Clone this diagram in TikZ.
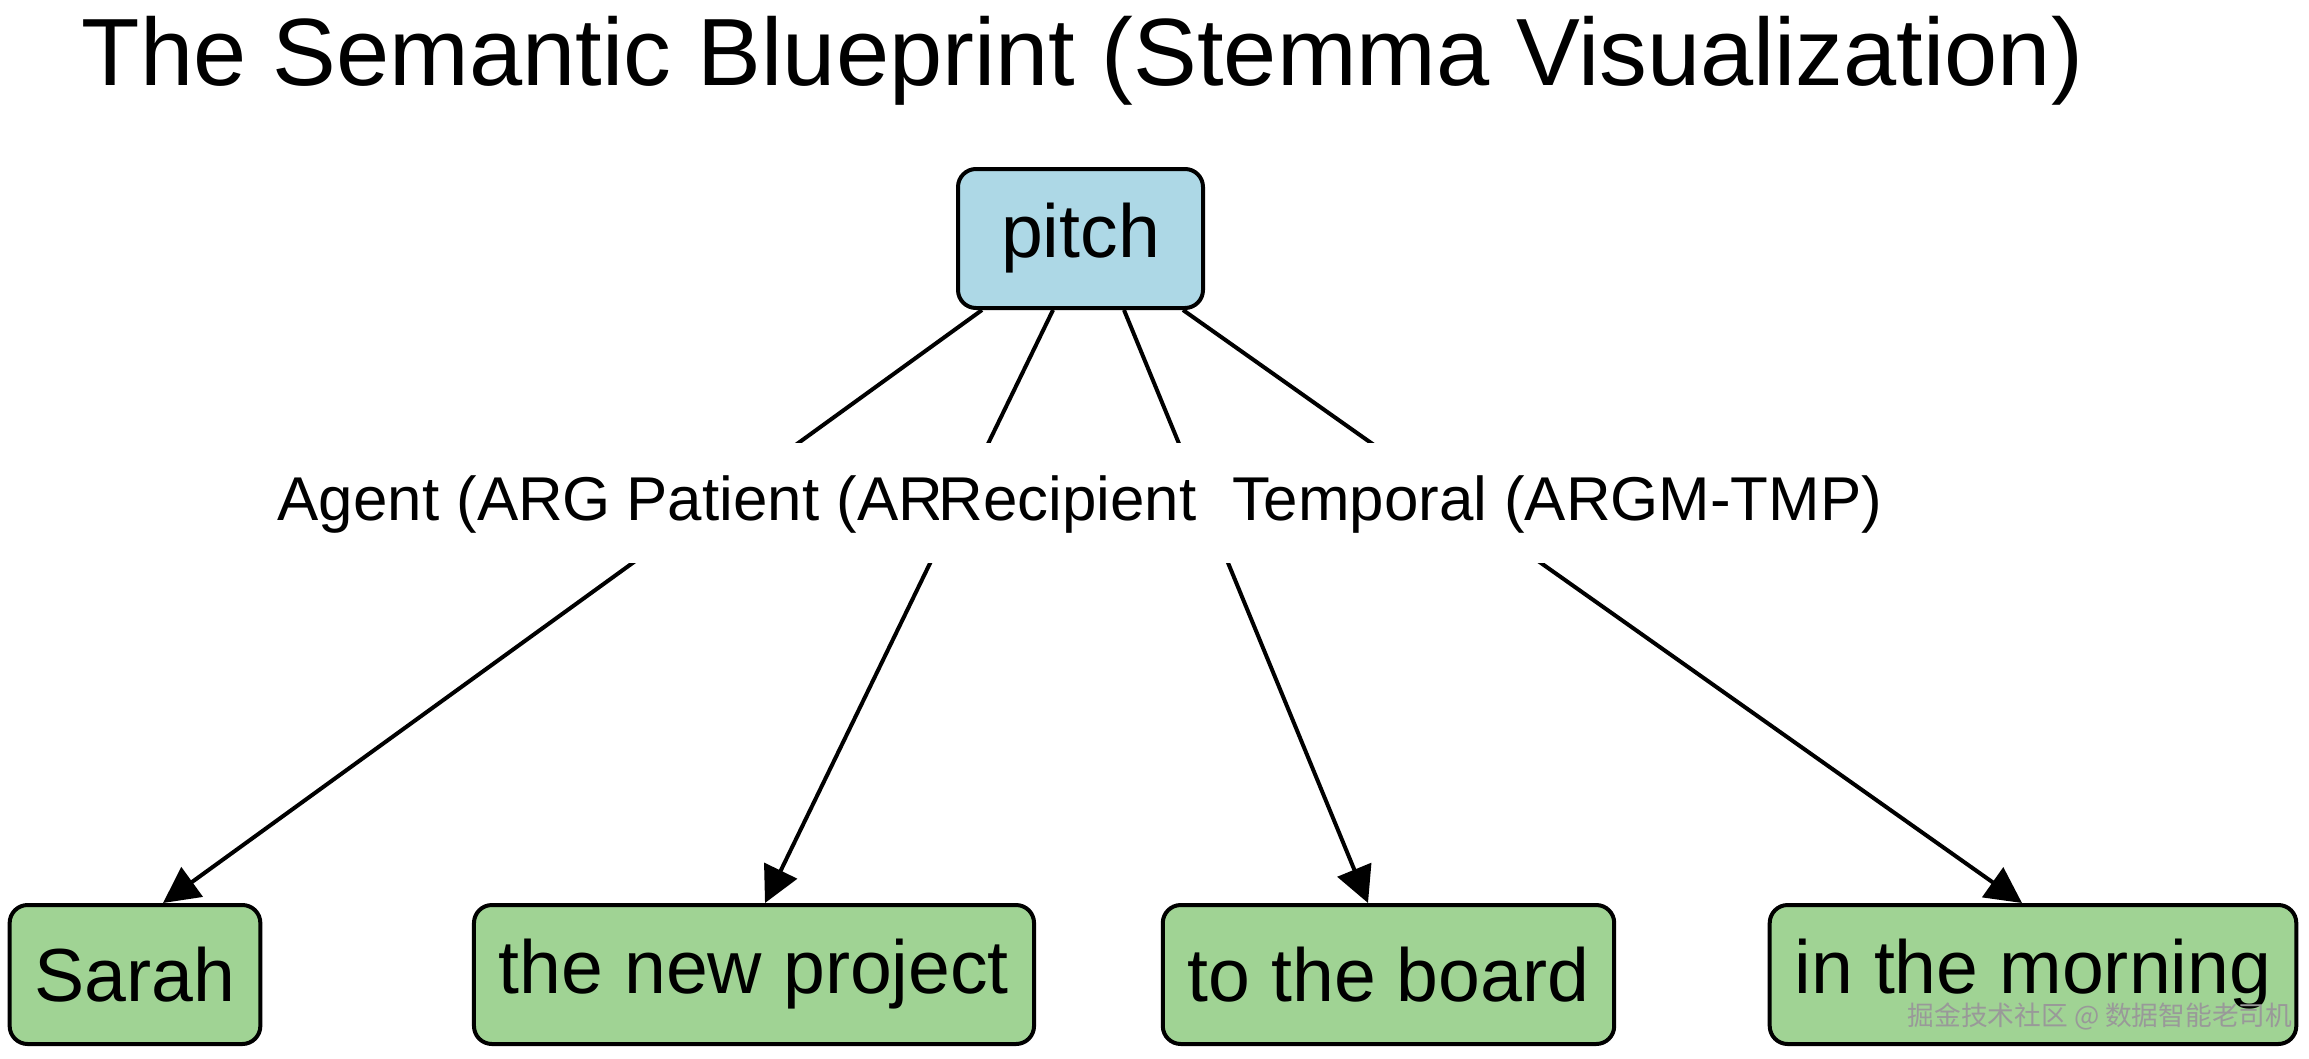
\documentclass[tikz,border=0pt]{standalone}
\usepackage{fontspec}
\setmainfont{Liberation Sans}
\newfontfamily\cjk{Noto Sans CJK SC}
\usetikzlibrary{arrows.meta}

\definecolor{verbblue}{HTML}{ADD8E6}
\definecolor{arggreen}{HTML}{A0D394}

\begin{document}
\begin{tikzpicture}[
		v/.style = {rectangle, rounded corners=0.18cm, draw=black, fill=verbblue, line width=0.04cm, minimum width=2.45cm, minimum height=1.39cm, font=\fontsize{21.4}{25}\selectfont},
		a/.style = {rectangle, rounded corners=0.18cm, draw=black, fill=arggreen, line width=0.04cm, inner xsep=0.25cm, minimum height=1.39cm, font=\fontsize{21.4}{25}\selectfont},
		l/.style = {anchor=base west, fill=white, inner xsep=0pt, inner ysep=0pt, text height=0.77cm, text depth=0.43cm, font=\fontsize{17.6}{20}\selectfont},
		r/.style = {-{Triangle[length=0.36cm, width=0.36cm]}, line width=0.04cm}
		]
		\useasboundingbox (0, 0) rectangle (23.09, 10.58);
		
		% === === Nodes === ===
		\node[anchor=base west, inner sep=0pt, font=\fontsize{27.2}{32}\selectfont]	(title)	at	(0.81, 9.73)	{The Semantic Blueprint (Stemma Visualization)};
		
		\node[v]	(pitch)		at	(10.805, 8.195)		{pitch};
		
		\node[a]	(sarah)		at	(1.35, 0.835)		{Sarah};
		\node[a]	(project)	at	(7.54, 0.835)		{the new project};
		\node[a]	(board)		at	(13.885, 0.835)		{to the board};
		\node[a]	(morning)	at	(20.33, 0.835)		{in the morning};
		
		% === === Lines === ===
		\draw[r]	([xshift=-0.985cm]pitch.south)	to	([xshift=0.28cm]sarah.north);
		\draw[r]	([xshift=-0.275cm]pitch.south)	to	([xshift=0.11cm]project.north);
		\draw[r]	([xshift=0.435cm]pitch.south)	to	([xshift=-0.205cm]board.north);
		\draw[r]	([xshift=1.025cm]pitch.south)	to	([xshift=-0.11cm]morning.north);
		
		% === === Labels === ===
		\node[l]	(agent)		at	(2.77, 5.38)	{Agent (ARG};
		\node[l]	(patient)	at	(6.26, 5.38)	{Patient (AR};
		\node[l]	(recipient)	at	(9.38, 5.38)	{Recipient};
		\node[l, inner xsep=0.36cm]	(temporal)	at	(11.96, 5.38)	{Temporal (ARGM-TMP)};
		
		\node[text=black!40, font=\cjk\fontsize{7.6}{9}\selectfont, inner sep=0pt]	(mark)	at	(21.0, 0.415)	{掘金技术社区 @ 数据智能老司机};
		
	\end{tikzpicture}
\end{document}
